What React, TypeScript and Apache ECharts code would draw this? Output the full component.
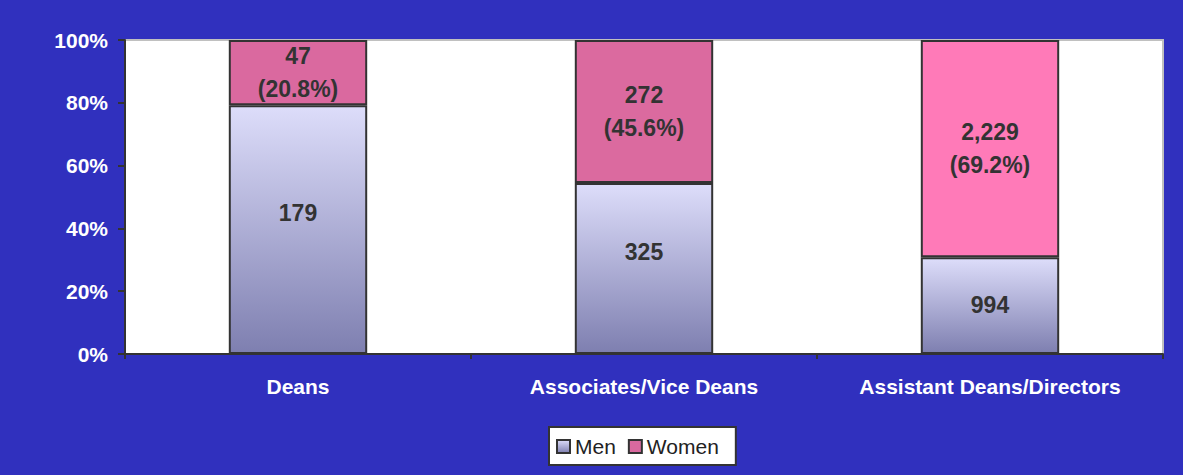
import React, { useEffect, useRef } from "react";
import * as echarts from "echarts";

const categories = ["Deans", "Associates/Vice Deans", "Assistant Deans/Directors"];
const menValues = [179, 325, 994];
const womenValues = [47, 272, 2229];
const womenColors = ["#DA699F", "#DB6A9F", "#FF7AB8"];
const yTicks = [0, 20, 40, 60, 80, 100];
const menLabelShift = [-17, -17, -1];

const FONT = "'Liberation Sans', Arial, sans-serif";

export default function App() {
  const ref = useRef<HTMLDivElement>(null);
  useEffect(() => {
    document.body.style.margin = "0";
    if (!ref.current) return;
    const chart = echarts.init(ref.current, null, { renderer: "svg" });
    const totals = menValues.map((m, i) => m + womenValues[i]);
    const menPct = menValues.map((m, i) => (m / totals[i]) * 100);
    const womenPct = womenValues.map((w, i) => (w / totals[i]) * 100);
    const fmt = (n: number) => n.toLocaleString("en-US");
    const menGradient = new echarts.graphic.LinearGradient(0, 0, 0, 1, [
      { offset: 0, color: "#DDDDFA" },
      { offset: 1, color: "#7E7FB0" },
    ]);
    const labelBase = {
      show: true,
      position: "inside",
      color: "#333333",
      fontFamily: FONT,
      fontWeight: "bold",
      fontSize: 23,
      lineHeight: 33,
    };
    chart.setOption({
      animation: false,
      backgroundColor: "#3030BE",
      textStyle: { fontFamily: FONT },
      grid: {
        left: 125,
        right: 20,
        top: 40,
        bottom: 121,
        show: true,
        backgroundColor: "#FFFFFF",
        borderColor: "#C0C0C0",
        borderWidth: 2,
      },
      legend: {
        left: 549,
        top: 427,
        padding: [9, 17, 8, 7],
        backgroundColor: "#FFFFFF",
        borderColor: "#333333",
        borderWidth: 2,
        itemWidth: 13,
        itemHeight: 13,
        itemGap: 12,
        icon: "rect",
        textStyle: { color: "#222222", fontSize: 21, fontFamily: FONT },
        data: [
          { name: "Men", itemStyle: { color: menGradient, borderColor: "#333333", borderWidth: 2 } },
          { name: "Women", itemStyle: { color: womenColors[0], borderColor: "#333333", borderWidth: 2 } },
        ],
      },
      xAxis: {
        type: "category",
        data: categories,
        boundaryGap: true,
        axisLine: { lineStyle: { color: "#333333", width: 2 } },
        axisTick: { show: true, length: 5, lineStyle: { color: "#333333", width: 2 } },
        axisLabel: {
          color: "#FFFFFF",
          fontWeight: "bold",
          fontSize: 21,
          fontFamily: FONT,
          margin: 22,
        },
      },
      yAxis: {
        type: "value",
        min: 0,
        max: 100,
        interval: 20,
        axisLine: { show: true, lineStyle: { color: "#333333", width: 2 } },
        axisTick: { show: true, length: 7, lineStyle: { color: "#333333", width: 2 } },
        splitLine: { show: false },
        axisLabel: {
          color: "#FFFFFF",
          fontWeight: "bold",
          fontSize: 21,
          fontFamily: FONT,
          margin: 17,
          formatter: (v: number) => (yTicks.includes(v) ? v + "%" : ""),
        },
      },
      series: [
        {
          name: "Men",
          type: "bar",
          stack: "total",
          barWidth: "40%",
          itemStyle: { color: menGradient, borderColor: "#333333", borderWidth: 2 },
          label: {
            ...labelBase,
            formatter: (p: any) => fmt(menValues[p.dataIndex]),
          },
          data: menPct.map((v, i) => ({ value: v, label: { offset: [0, menLabelShift[i]] } })),
        },
        {
          name: "Women",
          type: "bar",
          stack: "total",
          barWidth: "40%",
          itemStyle: { color: womenColors[0], borderColor: "#333333", borderWidth: 2 },
          label: {
            ...labelBase,
            formatter: (p: any) =>
              fmt(womenValues[p.dataIndex]) + "\n(" + womenPct[p.dataIndex].toFixed(1) + "%)",
          },
          data: womenPct.map((v, i) => ({ value: v, itemStyle: { color: womenColors[i] } })),
        },
      ],
    });
    return () => chart.dispose();
  }, []);
  return <div ref={ref} style={{ width: 1183, height: 475 }} />;
}
